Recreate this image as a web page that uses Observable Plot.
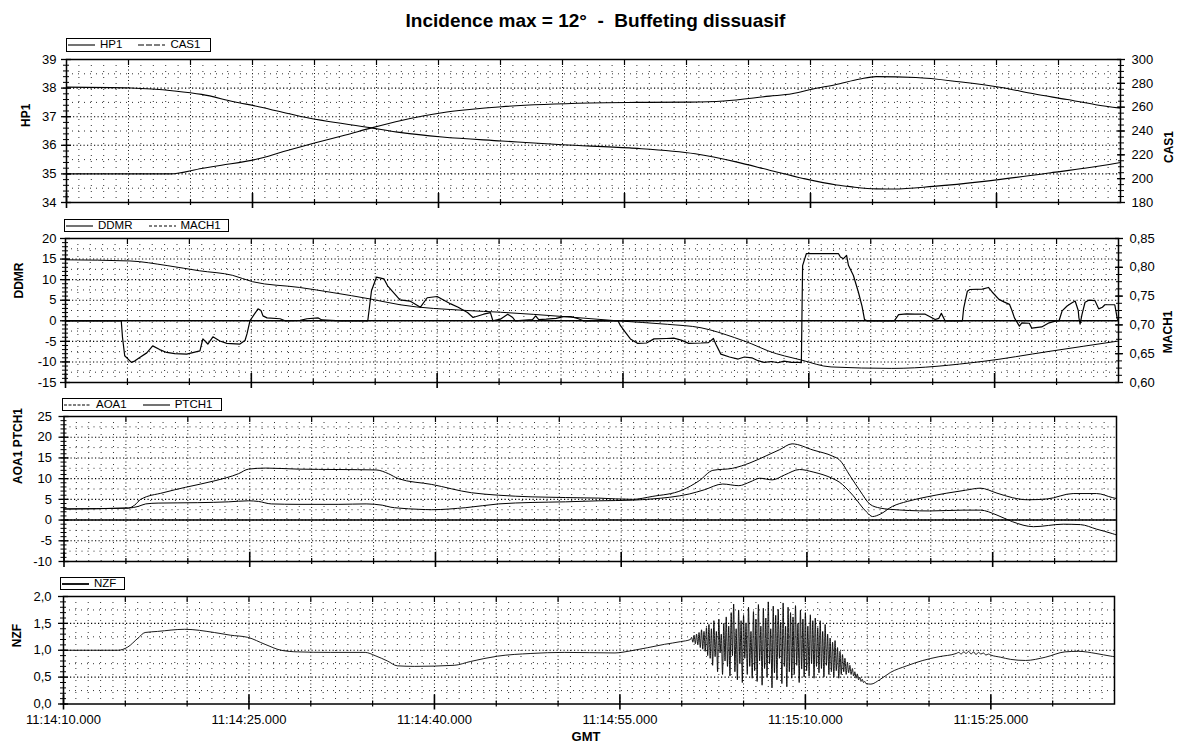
<!DOCTYPE html>
<html>
<head>
<meta charset="utf-8">
<script src="https://cdn.jsdelivr.net/npm/d3@7"></script>
<script src="https://cdn.jsdelivr.net/npm/@observablehq/plot@0.6"></script>
<style>
  body { margin: 0; background: #fff; }
  #chart { position: relative; width: 1179px; height: 749px; overflow: hidden;
           font-family: "Liberation Sans", Arial, sans-serif; color: #000; background: #fff; }
  #title { position: absolute; left: 6px; top: 11px; width: 1179px; text-align: center;
           font-size: 19px; font-weight: bold; line-height: 1; white-space: pre; }
  .panel { position: absolute; left: 0; }
  .legend { position: absolute; box-sizing: border-box; border: 1.5px solid #000; background: #fff;
            display: flex; align-items: center; font-size: 11.5px; line-height: 1; padding: 0 4px 0 1px; }
  .legend svg { display: block; margin-right: 5px; }
  .legend span { margin-right: 16px; }
  .legend span:last-child { margin-right: 0; }
</style>
</head>
<body>
<div id="chart">
  <div id="title">Incidence max = 12°  -  Buffeting dissuasif</div>
</div>
<script>
// ---- time axis (seconds after 11:14:10.000, GMT) ----
const tEnd = 85;
const xMajor = [0, 15, 30, 45, 60, 75];
const xLabels = ["11:14:10.000", "11:14:25.000", "11:14:40.000", "11:14:55.000", "11:15:10.000", "11:15:25.000"];

// ---- panel 1 : HP1 (left) / CAS1 (right) ----
const hp1T = [0, 8.4, 10.9, 12.5, 15.3, 17.5, 20.0, 22.5, 24.6, 27.0, 30.3, 32.5, 35.1, 42.2, 46.0, 50.3, 53.0, 56.7, 58.5, 60.2, 62.0, 64.0, 65.3, 68.5, 72.0, 75.4, 78.0, 80.7, 83.0, 85.0];
const hp1V = [35.0, 35.0, 35.19, 35.3, 35.51, 35.78, 36.08, 36.36, 36.61, 36.87, 37.14, 37.25, 37.35, 37.48, 37.5, 37.51, 37.55, 37.72, 37.8, 37.97, 38.12, 38.32, 38.4, 38.37, 38.22, 38.02, 37.8, 37.6, 37.42, 37.3];
const cas1T = [0, 5.2, 8.7, 10.9, 13.5, 15.5, 18.9, 24.6, 27.0, 30.3, 35.1, 40.0, 45.4, 50.7, 54.0, 56.7, 59.4, 62.1, 63.2, 65.3, 66.7, 69.9, 74.0, 79.4, 82.1, 85.0];
const cas1V = [276.8, 276.1, 273.6, 270.7, 264.6, 260.4, 252.2, 242.6, 238.6, 234.9, 231.6, 228.4, 225.8, 220.9, 214.1, 207.1, 200.2, 194.7, 193.3, 191.4, 191.3, 193.5, 197.7, 205.0, 208.7, 213.6];
const hpTicks = [34, 35, 36, 37, 38, 39];
const hpLabels = ["34", "35", "36", "37", "38", "39"];
const casTicks = [180, 200, 220, 240, 260, 280, 300];
const casLabels = ["180", "200", "220", "240", "260", "280", "300"];

// ---- panel 2 : DDMR (left) / MACH1 (right) ----
const ddmrT = [0, 4.5, 4.6, 4.78, 5.32, 5.58, 5.99, 6.56, 7.04, 7.6, 8.17, 8.82, 9.79, 10.44, 10.85, 11.09, 11.49, 11.9, 12.46, 13.03, 14.08, 14.49, 14.65, 14.89, 15.22, 15.54, 15.78, 15.94, 16.27, 17.32, 17.72, 18.94, 19.5, 20.4, 20.7, 22.2, 24.4, 24.7, 25.1, 25.7, 26.0, 27.0, 27.8, 28.65, 29.2, 30.0, 31.1, 31.7, 32.45, 32.9, 33.75, 34.3, 34.5, 35.1, 35.7, 36.1, 36.3, 37.7, 37.95, 38.2, 38.8, 39.6, 40.2, 40.8, 41.4, 41.8, 44.6, 44.8, 45.2, 45.6, 46.2, 46.9, 47.5, 48.5, 49.1, 49.7, 50.3, 51.3, 51.9, 52.3, 52.5, 52.9, 53.6, 54.3, 54.8, 55.4, 55.9, 56.4, 57.0, 57.5, 58.0, 58.6, 59.2, 59.4, 59.5, 59.8, 62.4, 62.55, 62.8, 63.05, 63.2, 63.6, 64.0, 64.3, 64.5, 64.7, 66.9, 67.25, 67.9, 68.55, 69.4, 69.9, 70.2, 70.5, 70.7, 71.0, 72.4, 72.5, 72.8, 73.0, 74.0, 74.5, 74.8, 75.35, 75.75, 76.2, 76.4, 76.6, 77.0, 77.2, 77.8, 78.0, 78.8, 79.4, 79.9, 80.2, 80.45, 80.85, 81.25, 81.5, 81.75, 81.8, 81.9, 82.05, 82.3, 82.6, 83.1, 83.4, 83.7, 83.9, 84.3, 84.7, 84.9, 85.0];
const ddmrV = [0, 0, -4, -8.5, -10.1, -9.8, -8.9, -7.8, -6.1, -7.0, -7.7, -8.0, -8.1, -7.6, -7.3, -4.4, -5.65, -3.9, -4.9, -5.5, -5.65, -4.8, -3.2, 0, 1.5, 2.9, 2.5, 1.2, 0.7, 0.5, 0, 0.1, 0.5, 0.7, 0.2, 0, 0, 7.3, 10.6, 10.2, 8.5, 5.1, 4.8, 3.3, 5.6, 5.9, 4.1, 3.3, 2.0, 0.8, 1.6, 2.0, 0, 0.4, 1.6, 0.8, 0, 0.3, 1.2, 0.3, 0.4, 0.6, 1.0, 1.0, 0.5, 0, 0, -1.2, -2.8, -4.4, -5.5, -5.4, -4.4, -4.3, -4.2, -4.7, -5.5, -5.4, -5.3, -4.3, -5.7, -8.1, -8.8, -9.3, -8.8, -9.0, -9.7, -10.1, -9.9, -10.2, -9.8, -10.1, -10.1, -10.2, 13.4, 16.3, 16.3, 15.5, 15.1, 15.9, 13.5, 11, 7.0, 3.5, 0.3, 0, 0, 1.5, 1.7, 1.6, 1.6, 0.8, 0.3, 0.6, 1.8, 0, 0, 3.0, 7.2, 7.6, 7.7, 8.1, 7.0, 5.2, 4.6, 4.0, 2.5, 0.7, -1.3, -0.5, -0.6, -1.8, -1.5, -0.5, -0.1, 0, 2.4, 3.6, 4.4, 4.8, 2.5, 0.8, -0.8, 1.5, 4.5, 5.0, 4.9, 2.9, 3.3, 3.9, 3.9, 3.9, 0.5, 0];
const mach1T = [0, 5.2, 8.2, 10.8, 13.5, 15.1, 18.9, 21.6, 24.6, 27.0, 32.4, 35.1, 40.5, 44.6, 48.6, 51.3, 54.0, 55.4, 56.7, 59.4, 61.8, 66.7, 74.0, 79.4, 85.0];
const mach1V = [0.813, 0.811, 0.803, 0.794, 0.786, 0.775, 0.765, 0.756, 0.745, 0.735, 0.725, 0.722, 0.714, 0.707, 0.701, 0.695, 0.678, 0.667, 0.655, 0.639, 0.627, 0.6245, 0.6365, 0.654, 0.672];
const ddmrTicks = [-15, -10, -5, 0, 5, 10, 15, 20];
const ddmrLabels = ["-15", "-10", "-5", "0", "5", "10", "15", "20"];
const machTicks = [0.60, 0.65, 0.70, 0.75, 0.80, 0.85];
const machLabels = ["0,60", "0,65", "0,70", "0,75", "0,80", "0,85"];

// ---- panel 3 : AOA1 / PTCH1 ----
const aoa1T = [0, 5.2, 6.0, 6.6, 7.6, 10.8, 13.3, 14.9, 15.7, 16.75, 18.9, 22.2, 24.4, 25.7, 26.4, 27.0, 28.65, 29.7, 32.45, 35.1, 37.8, 40.5, 43.2, 45.9, 47.5, 48.9, 50.5, 51.7, 53.2, 54.5, 55.4, 56.2, 57.2, 58.2, 59.4, 60.5, 62.1, 62.6, 63.7, 64.8, 65.3, 65.9, 66.9, 68.1, 69.7, 71.3, 72.8, 74.0, 75.35, 76.6, 77.8, 79.4, 81.5, 83.4, 84.7, 85.0];
const aoa1V = [2.7, 2.9, 3.3, 3.9, 4.1, 4.2, 4.4, 4.65, 4.5, 3.9, 3.8, 3.8, 3.9, 3.6, 3.1, 2.9, 2.6, 2.5, 3.0, 3.9, 4.25, 4.4, 4.65, 4.8, 5.1, 5.5, 6.3, 7.3, 8.7, 8.3, 9.2, 10.1, 9.7, 10.9, 12.2, 11.6, 10.0, 9.2, 6.0, 2.0, 0.85, 1.4, 3.3, 4.5, 5.6, 6.5, 7.2, 7.7, 6.5, 5.4, 4.9, 5.1, 6.4, 6.4, 5.4, 5.2];
const ptch1T = [0, 5.2, 5.7, 6.2, 8.0, 9.8, 12.2, 14.1, 14.9, 16.3, 18.9, 22.2, 25.2, 26.2, 27.0, 29.7, 32.9, 35.1, 37.8, 43.2, 45.9, 47.5, 49.9, 51.3, 52.4, 54.0, 55.4, 56.7, 57.8, 58.8, 60.5, 62.1, 62.6, 63.5, 64.3, 65.1, 65.9, 66.7, 69.9, 72.6, 74.0, 75.35, 76.6, 78.3, 80.7, 82.1, 83.4, 84.7, 85.0];
const ptch1V = [2.65, 2.9, 3.6, 5.0, 6.6, 7.9, 9.5, 11.2, 12.3, 12.55, 12.3, 12.2, 12.1, 11.2, 10.0, 8.6, 6.6, 6.0, 5.6, 5.3, 5.0, 5.7, 7.2, 9.5, 12.0, 12.5, 13.8, 15.5, 17.0, 18.4, 16.9, 15.4, 14.6, 10.6, 7.0, 3.8, 2.9, 2.6, 2.2, 2.4, 2.4, 1.2, -0.4, -1.6, -1.0, -1.1, -2.2, -3.3, -3.6];
const angTicks = [-10, -5, 0, 5, 10, 15, 20, 25];
const angLabels = ["-10", "-5", "0", "5", "10", "15", "20", "25"];

// ---- panel 4 : NZF ----
const nzfT = [0, 4.4, 5.2, 6.0, 6.6, 7.6, 9.8, 12.2, 13.5, 14.9, 16.3, 17.6, 18.9, 21.6, 24.4, 25.2, 26.2, 27.0, 28.4, 31.6, 32.9, 35.1, 37.8, 40.5, 44.6, 45.9, 48.6, 49.9, 50.7];
const nzfV = [1.0, 1.0, 1.06, 1.22, 1.33, 1.35, 1.39, 1.33, 1.28, 1.24, 1.11, 1.0, 0.97, 0.96, 0.96, 0.9, 0.8, 0.71, 0.7, 0.72, 0.79, 0.89, 0.94, 0.96, 0.95, 0.99, 1.11, 1.16, 1.2];
// buffeting, sampled every 0.1 s from 50.8 s
const buffetStart = 50.8, buffetStep = 0.1;
const nzfBuffet = [
  1.24, 1.15, 1.28, 1.12, 1.30, 1.10, 1.33, 1.05, 1.38, 1.02, 1.35, 0.98,
  1.42, 0.90, 1.48, 0.85, 1.40, 0.72, 1.55, 0.88, 1.35, 0.60,
  1.58, 0.95, 1.30, 0.55, 1.50, 0.80, 1.62, 0.70, 1.45, 0.52,
  1.70, 0.90, 1.86, 0.60, 1.40, 0.45, 1.75, 0.75, 1.55, 0.40,
  1.65, 0.85, 1.50, 0.55, 1.80, 0.70, 1.35, 0.48, 1.72, 0.62,
  1.58, 0.42, 1.85, 0.80, 1.45, 0.35, 1.78, 0.66, 1.60, 0.50,
  1.90, 0.75, 1.40, 0.30, 1.82, 0.58, 1.65, 0.45, 1.76, 0.85,
  1.52, 0.38, 1.88, 0.70, 1.45, 0.32, 1.80, 0.60, 1.70, 0.48,
  1.62, 0.55, 1.83, 0.72, 1.50, 0.40, 1.75, 0.65, 1.58, 0.50,
  1.70, 0.62, 1.45, 0.52, 1.66, 0.75, 1.55, 0.48, 1.60, 0.70,
  1.42, 0.58, 1.55, 0.66, 1.35, 0.50, 1.48, 0.72, 1.30, 0.55,
  1.22, 0.60, 1.15, 0.50, 1.18, 0.62, 1.05, 0.48, 0.98, 0.55,
  0.92, 0.60, 0.85, 0.55, 0.78, 0.58, 0.72, 0.55, 0.66, 0.52,
  0.60, 0.48, 0.56, 0.45, 0.50, 0.42, 0.46, 0.40, 0.42, 0.38
];
const nzfT2 = [65.3, 66.0, 66.9, 68.2, 69.5, 70.8, 72.2, 72.4, 72.6, 72.8, 73.0, 73.2, 73.4, 73.6, 73.8, 74.0, 74.2, 74.4, 74.6, 74.8, 75.0, 75.8, 76.6, 77.8, 79.4, 81.0, 82.1, 83.5, 84.7, 85.0];
const nzfV2 = [0.37, 0.45, 0.59, 0.71, 0.81, 0.88, 0.94, 0.96, 0.93, 0.97, 0.94, 0.98, 0.93, 0.97, 0.92, 0.96, 0.93, 0.95, 0.91, 0.93, 0.91, 0.87, 0.83, 0.81, 0.87, 0.97, 0.98, 0.94, 0.89, 0.88];
const nzfTicks = [0, 0.5, 1, 1.5, 2];
const nzfLabels = ["0,0", "0,5", "1,0", "1,5", "2,0"];

// ---------------------------------------------------------------
const zip = (ts, vs, f = v => v) => ts.map((t, i) => ({t, v: f(vs[i])}));
const seconds = d3.range(1, tEnd);
const grid1s = seconds.filter(s => s % 5 !== 0);
const grid5s = seconds.filter(s => s % 5 === 0);
const x5 = d3.range(5, tEnd, 5).filter(s => s % 15 !== 0);
const blank = () => "";
const fontFamily = "'Liberation Sans', Arial, sans-serif";

// second quantity drawn against the left scale of its panel
const casToHp = c => 34 + (c - 180) / 24;
const machToDdmr = m => -15 + (m - 0.6) * 140;

const nzfAll = zip(nzfT, nzfV)
  .concat(nzfBuffet.map((v, i) => ({t: buffetStart + i * buffetStep, v})))
  .concat(zip(nzfT2, nzfV2));

const panels = [
  {
    top: 59, h: 143, ml: 66, mr: 59, mb: 10,
    domain: [34, 39], ticks: hpTicks, labels: hpLabels, minorStep: 0.2, padL: 10,
    left: "HP1", leftDx: -40, leftDy: -4,
    right: {ticks: casTicks.map(casToHp), labels: casLabels, minorStep: 5 / 24, name: "CAS1", dx: 49},
    lines: [
      {data: zip(hp1T, hp1V), curve: "monotone-x", w: 1.1},
      {data: zip(cas1T, cas1V, casToHp), curve: "monotone-x", w: 1.1}
    ],
    legend: {left: 66, top: 38, w: 145, h: 14, items: [{name: "HP1", dash: null}, {name: "CAS1", dash: "6,2"}]}
  },
  {
    top: 238, h: 144, ml: 65, mr: 61, mb: 10,
    domain: [-15, 20], ticks: ddmrTicks, labels: ddmrLabels, minorStep: 1, padL: 9, zero: true,
    left: "DDMR", leftDx: -46, leftDy: -12,
    right: {ticks: machTicks.map(machToDdmr), labels: machLabels, minorStep: 0.0125 * 140, name: "MACH1", dx: 50},
    lines: [
      {data: zip(mach1T, mach1V, machToDdmr), curve: "monotone-x", w: 1},
      {data: zip(ddmrT, ddmrV), curve: "linear", w: 1.2}
    ],
    legend: {left: 64, top: 219, w: 165, h: 13, items: [{name: "DDMR", dash: null}, {name: "MACH1", dash: "3,2"}]}
  },
  {
    top: 416, h: 145, ml: 63.5, mr: 63, mb: 10,
    domain: [-10, 25], ticks: angTicks, labels: angLabels, minorStep: 1, padL: 12, zero: true,
    left: "AOA1 PTCH1", leftDx: -46, leftDy: -5,
    lines: [
      {data: zip(aoa1T, aoa1V), curve: "monotone-x", w: 1},
      {data: zip(ptch1T, ptch1V), curve: "monotone-x", w: 1}
    ],
    legend: {left: 62, top: 398, w: 160, h: 13, items: [{name: "AOA1", dash: "3,1.5"}, {name: "PTCH1", dash: null}]}
  },
  {
    top: 596, h: 107.5, ml: 63, mr: 65, mb: 46,
    domain: [0, 2], ticks: nzfTicks, labels: nzfLabels, minorStep: 0.1, padL: 12,
    left: "NZF", leftDx: -46, leftDy: -3, bottomLabels: true,
    lines: [
      {data: nzfAll, curve: "monotone-x", w: 0.9}
    ],
    legend: {left: 60, top: 577, w: 65, h: 13, items: [{name: "NZF", dash: null, w: 1.8}]}
  }
];

const chart = document.getElementById("chart");
const mt = 10;

panels.forEach(p => {
  const [y0, y1] = p.domain;
  const major = p.ticks;
  const step = major[1] - major[0];
  const half = major.slice(0, -1).map(v => v + step / 2);
  const minor = d3.range(y0, y1 + 1e-9, p.minorStep);
  const labelOf = v => p.labels[major.indexOf(v)];

  const marks = [
    // dotted grid
    Plot.ruleX(grid1s, {stroke: "#333", strokeWidth: 1, strokeDasharray: "1,5"}),
    Plot.ruleX(grid5s, {stroke: "#111", strokeWidth: 1, strokeDasharray: "1,2.5"}),
    Plot.ruleY(half, {stroke: "#333", strokeWidth: 1, strokeDasharray: "1,5"}),
    Plot.ruleY(major.slice(1, -1), {stroke: "#000", strokeWidth: 1.1, strokeDasharray: "1.2,2.3"})
  ];
  if (p.zero) marks.push(Plot.ruleY([0], {stroke: "#000", strokeWidth: 1.6}));
  p.lines.forEach(l => marks.push(Plot.line(l.data, {x: "t", y: "v", curve: l.curve, stroke: "#000", strokeWidth: l.w})));
  marks.push(Plot.frame({stroke: "#000", strokeWidth: 1.5}));

  // left axis: labels, then crossing minor and major ticks
  marks.push(Plot.axisY({ticks: major, tickFormat: labelOf, tickSize: 0, tickPadding: p.padL, fontSize: 13, label: null}));
  marks.push(Plot.axisY({ticks: minor, tickFormat: blank, tickSize: 6, dx: 3, strokeWidth: 1, label: null}));
  marks.push(Plot.axisY({ticks: major, tickFormat: blank, tickSize: 10, dx: 5, strokeWidth: 1.3, label: null}));
  marks.push(Plot.text([p.left], {text: d => d, frameAnchor: "left", dx: p.leftDx, dy: p.leftDy, rotate: -90, fontWeight: "bold", fontSize: 12}));

  if (p.right) {
    const r = p.right;
    const rMinor = d3.range(r.ticks[0], r.ticks[r.ticks.length - 1] + 1e-9, r.minorStep);
    const rLabel = v => r.labels[r.ticks.indexOf(v)];
    marks.push(Plot.axisY({anchor: "right", ticks: r.ticks, tickFormat: rLabel, tickSize: 0, tickPadding: 11, fontSize: 13, label: null}));
    marks.push(Plot.axisY({anchor: "right", ticks: rMinor, tickFormat: blank, tickSize: 6, dx: -3, strokeWidth: 1, label: null}));
    marks.push(Plot.axisY({anchor: "right", ticks: r.ticks, tickFormat: blank, tickSize: 8, dx: -4, strokeWidth: 1.3, label: null}));
    marks.push(Plot.text([r.name], {text: d => d, frameAnchor: "right", dx: r.dx, rotate: -90, fontWeight: "bold", fontSize: 12}));
  }

  // time ticks on bottom and top edges
  marks.push(Plot.axisX({ticks: xMajor, tickFormat: blank, tickSize: 15, dy: -9, strokeWidth: 1.6, label: null}));
  marks.push(Plot.axisX({ticks: x5, tickFormat: blank, tickSize: 6, dy: -3, strokeWidth: 1.2, label: null}));
  marks.push(Plot.axisX({anchor: "top", ticks: x5.concat(xMajor.slice(1)), tickFormat: blank, tickSize: 5, dy: 5, strokeWidth: 1.2, label: null}));
  if (p.bottomLabels) {
    marks.push(Plot.axisX({ticks: xMajor, tickFormat: v => xLabels[xMajor.indexOf(v)], tickSize: 0, tickPadding: 11, fontSize: 13, label: null}));
    marks.push(Plot.text(["GMT"], {text: d => d, frameAnchor: "bottom", dx: -3, dy: 37, fontWeight: "bold", fontSize: 13}));
  }

  const svg = Plot.plot({
    width: 1179,
    height: mt + p.h + p.mb,
    marginTop: mt, marginBottom: p.mb, marginLeft: p.ml, marginRight: p.mr,
    x: {domain: [0, tEnd], label: null},
    y: {domain: p.domain, label: null},
    style: {background: "transparent", overflow: "visible", fontFamily, fontSize: "13px", color: "#000"},
    marks
  });
  svg.classList.add("panel");
  svg.style.top = (p.top - mt) + "px";
  chart.appendChild(svg);

  // legend box above the panel
  const lg = document.createElement("div");
  lg.className = "legend";
  Object.assign(lg.style, {left: p.legend.left + "px", top: p.legend.top + "px", width: p.legend.w + "px", height: p.legend.h + "px"});
  p.legend.items.forEach(it => {
    const ns = "http://www.w3.org/2000/svg";
    const s = document.createElementNS(ns, "svg");
    s.setAttribute("width", 27); s.setAttribute("height", 6);
    const ln = document.createElementNS(ns, "line");
    ln.setAttribute("x1", 0); ln.setAttribute("x2", 27); ln.setAttribute("y1", 3); ln.setAttribute("y2", 3);
    ln.setAttribute("stroke", "#000"); ln.setAttribute("stroke-width", it.w || 1.1);
    if (it.dash) ln.setAttribute("stroke-dasharray", it.dash);
    s.appendChild(ln);
    const t = document.createElement("span");
    t.textContent = it.name;
    lg.appendChild(s); lg.appendChild(t);
  });
  chart.appendChild(lg);
});
</script>
</body>
</html>
